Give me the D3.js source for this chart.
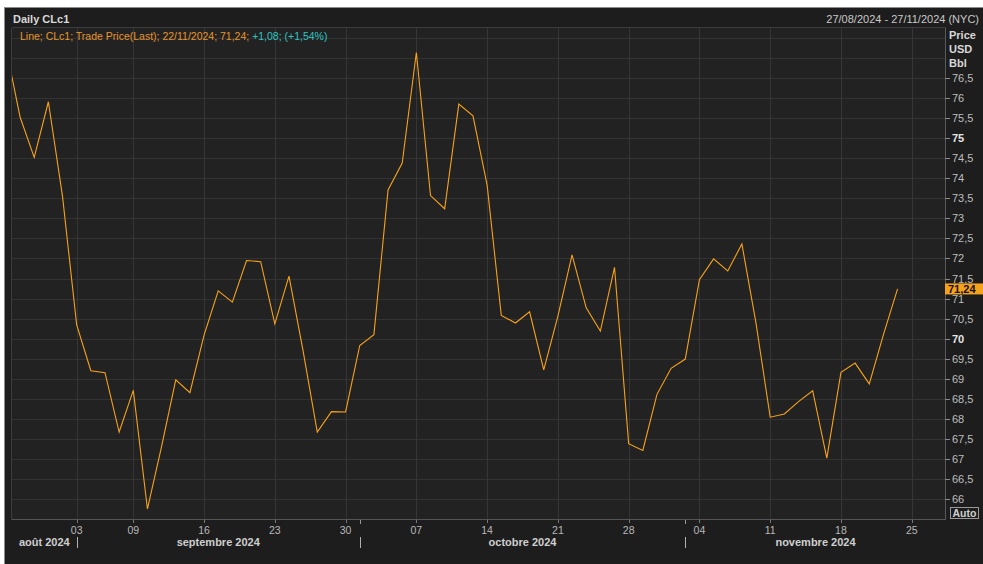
<!DOCTYPE html>
<html>
<head>
<meta charset="utf-8">
<script src="https://cdn.jsdelivr.net/npm/d3@7"></script>
<style>
    body { margin: 0; background: #fff; }
    svg text { font-family: "Liberation Sans", Arial, sans-serif; }
</style>
</head>
<body>
<svg id="chart" width="983" height="564"></svg>
<script>
// 
// Daily CLc1 line chart, trading days only (weekends and holidays skipped).
// 

var tradeDates = [
    "2024-08-26", "2024-08-27", "2024-08-28", "2024-08-29", "2024-08-30",
    "2024-09-03", "2024-09-04", "2024-09-05", "2024-09-06",
    "2024-09-09", "2024-09-10", "2024-09-11", "2024-09-12", "2024-09-13",
    "2024-09-16", "2024-09-17", "2024-09-18", "2024-09-19", "2024-09-20",
    "2024-09-23", "2024-09-24", "2024-09-25", "2024-09-26", "2024-09-27",
    "2024-09-30", "2024-10-01", "2024-10-02", "2024-10-03", "2024-10-04",
    "2024-10-07", "2024-10-08", "2024-10-09", "2024-10-10", "2024-10-11",
    "2024-10-14", "2024-10-15", "2024-10-16", "2024-10-17", "2024-10-18",
    "2024-10-21", "2024-10-22", "2024-10-23", "2024-10-24", "2024-10-25",
    "2024-10-28", "2024-10-29", "2024-10-30", "2024-10-31", "2024-11-01",
    "2024-11-04", "2024-11-05", "2024-11-06", "2024-11-07", "2024-11-08",
    "2024-11-11", "2024-11-12", "2024-11-13", "2024-11-14", "2024-11-15",
    "2024-11-18", "2024-11-19", "2024-11-20", "2024-11-21", "2024-11-22"
];

// empty slots at the right end of the axis
var futureDates = ["2024-11-25", "2024-11-26", "2024-11-27"];

var prices = [
    77.27, 75.53, 74.52, 75.91, 73.55,
    70.34, 69.20, 69.15, 67.67,
    68.71, 65.75, 67.31, 68.97, 68.65,
    70.09, 71.19, 70.91, 71.95, 71.92,
    70.37, 71.56, 69.69, 67.67, 68.18,
    68.17, 69.83, 70.10, 73.71, 74.38,
    77.14, 73.57, 73.24, 75.85, 75.56,
    73.83, 70.58, 70.39, 70.67, 69.22,
    70.56, 72.09, 70.77, 70.19, 71.78,
    67.38, 67.21, 68.61, 69.26, 69.49,
    71.47, 71.99, 71.69, 72.36, 70.38,
    68.04, 68.12, 68.43, 68.70, 67.02,
    69.16, 69.39, 68.87, 70.10, 71.24
];

var dayTickDates = ["2024-09-03", "2024-09-09", "2024-09-16", "2024-09-23", "2024-09-30",
                    "2024-10-07", "2024-10-14", "2024-10-21", "2024-10-28",
                    "2024-11-04", "2024-11-11", "2024-11-18", "2024-11-25"];
var dayTickLabels = ["03", "09", "16", "23", "30", "07", "14", "21", "28", "04", "11", "18", "25"];

var monthStartDates = ["2024-09-03", "2024-10-01", "2024-11-01"];
var monthLabels = ["août 2024", "septembre 2024", "octobre 2024", "novembre 2024"];

var priceTicks = [66, 66.5, 67, 67.5, 68, 68.5, 69, 69.5, 70, 70.5, 71, 71.5,
                  72, 72.5, 73, 73.5, 74, 74.5, 75, 75.5, 76, 76.5];
var priceGrid = priceTicks.concat([77, 77.5]);

var titleText = "Daily CLc1";
var rangeText = "27/08/2024 - 27/11/2024 (NYC)";
var legendMain = "Line; CLc1; Trade Price(Last); 22/11/2024; 71,24; ";
var legendChange = "+1,08; (+1,54%)";
var lastLabel = "71,24";
var unitLabels = ["Price", "USD", "Bbl"];

var plot = {left: 12, right: 945.7, top: 28, bottom: 519};

var allDates = tradeDates.concat(futureDates);
function date_index(d) { return allDates.indexOf(d) }
function fmt(v) { return String(v).replace('.', ',') }

var svg = d3.select('#chart');

var x = d3.scaleLinear().domain([0.43, 66.4]).range([plot.left, plot.right]);
var y = d3.scaleLinear().domain([65.5, 77.75]).range([plot.bottom, plot.top]);

// frame
svg.append('rect').attr('x', 5).attr('y', 8).attr('width', 978).attr('height', 556)
    .attr('fill', '#1d1d1d');
svg.append('line').attr('x1', 5).attr('x2', 983).attr('y1', 7.5).attr('y2', 7.5).attr('stroke', '#8c8c8c');
svg.append('line').attr('x1', 4.5).attr('x2', 4.5).attr('y1', 7).attr('y2', 564).attr('stroke', '#8c8c8c');

svg.append('rect')
    .attr('x', plot.left).attr('y', plot.top)
    .attr('width', plot.right - plot.left).attr('height', plot.bottom - plot.top)
    .attr('fill', '#222222');

// grid
svg.append('g').selectAll('line').data(priceGrid).enter().append('line')
    .attr('x1', plot.left).attr('x2', plot.right)
    .attr('y1', function(d) { return Math.round(y(d)) + 0.5 })
    .attr('y2', function(d) { return Math.round(y(d)) + 0.5 })
    .attr('stroke', '#333333');

svg.append('g').selectAll('line').data(dayTickDates).enter().append('line')
    .attr('x1', function(d) { return Math.round(x(date_index(d))) + 0.5 })
    .attr('x2', function(d) { return Math.round(x(date_index(d))) + 0.5 })
    .attr('y1', plot.top).attr('y2', plot.bottom)
    .attr('stroke', '#363636');

// plot borders
svg.append('line').attr('x1', plot.left - 0.5).attr('x2', plot.left - 0.5)
    .attr('y1', plot.top).attr('y2', plot.bottom + 1).attr('stroke', '#3c3c3c');
svg.append('line').attr('x1', plot.left).attr('x2', plot.right)
    .attr('y1', plot.top - 0.5).attr('y2', plot.top - 0.5).attr('stroke', '#3c3c3c');
svg.append('line').attr('x1', plot.left).attr('x2', plot.right)
    .attr('y1', plot.bottom + 0.5).attr('y2', plot.bottom + 0.5).attr('stroke', '#555555');
svg.append('line').attr('x1', 945.5).attr('x2', 945.5)
    .attr('y1', plot.top).attr('y2', plot.bottom + 1).attr('stroke', '#5a5a5a');

// price line
svg.append('clipPath').attr('id', 'clip').append('rect')
    .attr('x', plot.left).attr('y', plot.top)
    .attr('width', plot.right - plot.left).attr('height', plot.bottom - plot.top);

var line = d3.line()
    .x(function(d, i) { return x(i) })
    .y(function(d) { return y(d) });

svg.append('path')
    .datum(prices)
    .attr('clip-path', 'url(#clip)')
    .attr('d', line)
    .attr('fill', 'none')
    .attr('stroke', '#f7a21b')
    .attr('stroke-width', 1.1)
    .attr('stroke-linejoin', 'miter');

// header
svg.append('text').attr('x', 13).attr('y', 23)
    .attr('font-size', 11).attr('font-weight', 'bold').attr('fill', '#d8d8d8')
    .text(titleText);
svg.append('text').attr('x', 979).attr('y', 23).attr('text-anchor', 'end')
    .attr('font-size', 11).attr('fill', '#c8c8c8')
    .text(rangeText);

var legend = svg.append('text').attr('x', 20).attr('y', 40).attr('font-size', 10.5);
legend.append('tspan').attr('fill', '#e8952a').text(legendMain);
legend.append('tspan').attr('fill', '#2ec4c4').text(legendChange);

// right axis
var axis = svg.append('g');
axis.selectAll('line').data(priceTicks).enter().append('line')
    .attr('x1', 945).attr('x2', 950)
    .attr('y1', function(d) { return Math.round(y(d)) + 0.5 })
    .attr('y2', function(d) { return Math.round(y(d)) + 0.5 })
    .attr('stroke', '#8a8a8a');
axis.selectAll('text').data(priceTicks).enter().append('text')
    .attr('x', 952)
    .attr('y', function(d) { return y(d) + 4 })
    .attr('font-size', 11)
    .attr('font-weight', function(d) { return d % 5 == 0 ? 'bold' : 'normal' })
    .attr('fill', function(d) { return d % 5 == 0 ? '#e6e6e6' : '#bdbdbd' })
    .text(fmt);

svg.append('g').selectAll('text').data(unitLabels).enter().append('text')
    .attr('x', 949)
    .attr('y', function(d, i) { return 38.5 + i * 14.3 })
    .attr('font-size', 11).attr('font-weight', 'bold').attr('fill', '#d8d8d8')
    .text(function(d) { return d });

// last price tag
var last = prices[prices.length - 1];
svg.append('rect').attr('x', 945).attr('y', y(last) - 5.5).attr('width', 38).attr('height', 11)
    .attr('fill', '#f7a21b');
svg.append('text').attr('x', 948).attr('y', y(last) + 4)
    .attr('font-size', 11).attr('font-weight', 'bold').attr('fill', '#111')
    .text(lastLabel);

// Auto button
svg.append('rect').attr('x', 950.5).attr('y', 507.5).attr('width', 28).attr('height', 11)
    .attr('fill', '#1d1d1d').attr('stroke', '#9a9a9a');
svg.append('text').attr('x', 964.5).attr('y', 517).attr('text-anchor', 'middle')
    .attr('font-size', 10.5).attr('font-weight', 'bold').attr('fill', '#d0d0d0')
    .text('Auto');

// bottom axis: days
var days = svg.append('g');
days.selectAll('line').data(dayTickDates).enter().append('line')
    .attr('x1', function(d) { return Math.round(x(date_index(d))) + 0.5 })
    .attr('x2', function(d) { return Math.round(x(date_index(d))) + 0.5 })
    .attr('y1', 520).attr('y2', 523)
    .attr('stroke', '#777');
days.selectAll('text').data(dayTickDates).enter().append('text')
    .attr('x', function(d) { return x(date_index(d)) })
    .attr('y', 534)
    .attr('text-anchor', 'middle')
    .attr('font-size', 10.5).attr('fill', '#b8b8b8')
    .text(function(d, i) { return dayTickLabels[i] });

// bottom axis: months
var bounds = [plot.left].concat(monthStartDates.map(function(d) { return x(date_index(d)) }), [plot.right]);
var months = svg.append('g');
months.selectAll('line.sep').data(monthStartDates).enter().append('line')
    .attr('class', 'sep')
    .attr('x1', function(d) { return Math.round(x(date_index(d))) + 0.5 })
    .attr('x2', function(d) { return Math.round(x(date_index(d))) + 0.5 })
    .attr('y1', 537).attr('y2', 548)
    .attr('stroke', '#b0b0b0');
months.selectAll('line.tick').data(monthStartDates.slice(1)).enter().append('line')
    .attr('class', 'tick')
    .attr('x1', function(d) { return Math.round(x(date_index(d))) + 0.5 })
    .attr('x2', function(d) { return Math.round(x(date_index(d))) + 0.5 })
    .attr('y1', 520).attr('y2', 524)
    .attr('stroke', '#999');
months.selectAll('text').data(monthLabels).enter().append('text')
    .attr('x', function(d, i) { return (bounds[i] + bounds[i + 1]) / 2 })
    .attr('y', 546)
    .attr('text-anchor', 'middle')
    .attr('font-size', 11).attr('font-weight', 'bold').attr('fill', '#cfcfcf')
    .text(function(d) { return d });
</script>
</body>
</html>
